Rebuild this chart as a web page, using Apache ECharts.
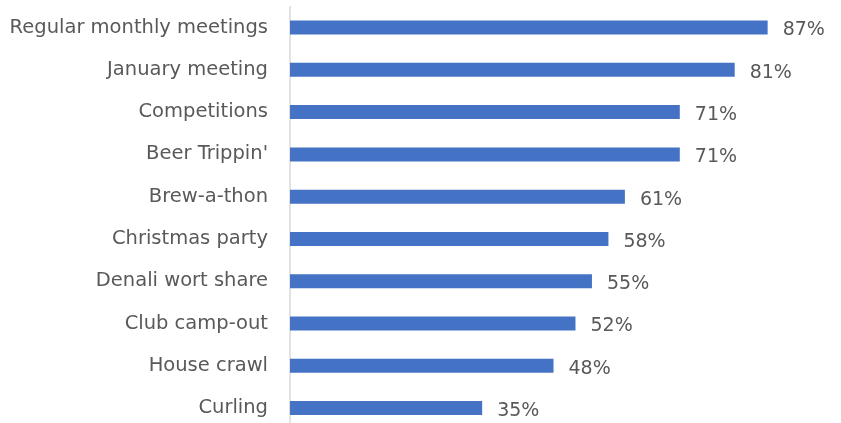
<!DOCTYPE html>
<html><head><meta charset="utf-8">
<script src="https://cdn.jsdelivr.net/npm/echarts@6/dist/echarts.min.js"></script>
<style>html,body{margin:0;padding:0;background:#fff;overflow:hidden;width:841px;height:423px}#c{width:841px;height:430px}</style>
</head><body><div id="c"></div>
<script>
const categories = ["Regular monthly meetings","January meeting","Competitions","Beer Trippin'","Brew-a-thon","Christmas party","Denali wort share","Club camp-out","House crawl","Curling"];
const values = [87,81,71,71,61,58,55,52,48,35];
const chart = echarts.init(document.getElementById('c'));
chart.setOption({
  animation:false,
  grid:{left:290,right:2,top:6.4,bottom:0.8,containLabel:false},
  xAxis:{type:'value',min:0,max:100,show:false},
  yAxis:{type:'category',data:categories,inverse:true,
    axisLine:{show:true,lineStyle:{color:'#d9d9d9',width:1.5}},
    axisTick:{show:false},
    axisLabel:{color:'#595959',fontSize:19.5,fontFamily:'DejaVu Sans',margin:22,padding:[3,0,0,0]}},
  series:[{type:'bar',data:values,barWidth:14,
    itemStyle:{color:'#4472c4'},
    label:{show:true,position:'right',distance:15,offset:[0,3],formatter:'{c}%',color:'#595959',fontSize:19,fontFamily:'DejaVu Sans'}}]
});
</script></body></html>
